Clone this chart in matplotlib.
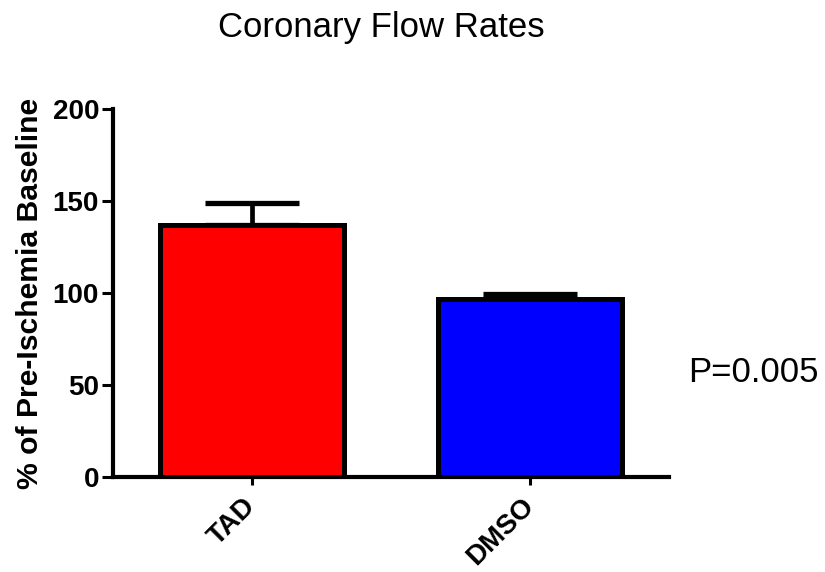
import matplotlib
matplotlib.use("Agg")
import matplotlib.pyplot as plt
import numpy as np

plt.rcParams["font.family"] = ["Liberation Sans", "DejaVu Sans"]

# values
groups = ["TAD", "DMSO"]
means = [137, 96.5]
sem_up = [12, 3]
colors = ["#ff0000", "#0000ff"]
y_ticks = [0, 50, 100, 150, 200]

fig = plt.figure(figsize=(8.25, 5.72), dpi=100)
ax = fig.add_axes([113 / 825, 1 - 477 / 572, (669 - 113) / 825, (477 - 109) / 572])

x = np.arange(len(groups))
ax.errorbar(x, means, yerr=[[0] * len(groups), sem_up], fmt="none",
            ecolor="black", elinewidth=3.4, capsize=34, capthick=3.8, zorder=2)
ax.bar(x, means, width=0.66, color=colors, edgecolor="black",
       linewidth=3.6, zorder=3)

ax.set_xlim(-0.5, 1.5)
ax.set_ylim(0, 200)
ax.set_yticks(y_ticks)
ax.set_xticks(x)
ax.set_xticklabels(groups, rotation=45, ha="right", va="center",
                   rotation_mode="anchor", fontsize=20, fontweight="bold")
for lab in ax.get_yticklabels():
    lab.set_fontsize(20)
    lab.set_fontweight("bold")

for side in ["top", "right"]:
    ax.spines[side].set_visible(False)
for side in ["left", "bottom"]:
    ax.spines[side].set_linewidth(3)
ax.tick_params(axis="y", length=8, width=2.2, pad=2)
ax.tick_params(axis="x", length=6, width=2.2, pad=12)

ax.set_ylabel("% of Pre-Ischemia Baseline", fontsize=21.7, fontweight="bold",
              labelpad=6)

fig.text(381 / 825, 1 - 28 / 572, "Coronary Flow Rates", fontsize=25,
         ha="center", va="center")
fig.text(688 / 825, 1 - 373 / 572, "P=0.005", fontsize=25,
         ha="left", va="center")

fig.savefig("out.png", dpi=100)
